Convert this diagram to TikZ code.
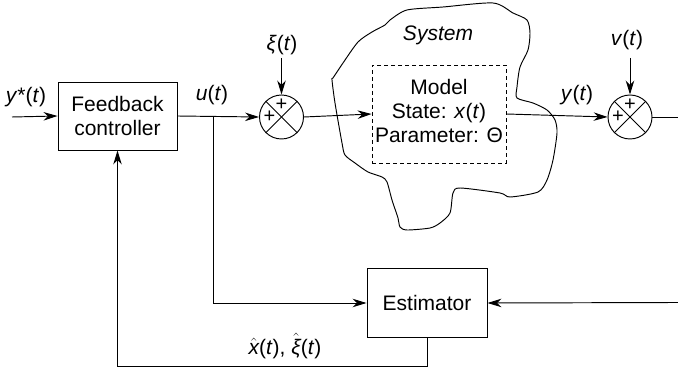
\documentclass[tikz,border=0pt]{standalone}
\usepackage{fontspec}
\setmainfont{Liberation Sans}
\usetikzlibrary{arrows.meta,calc}
\begin{document}
\begin{tikzpicture}[x=1pt,y=-1pt, line width=0.95pt,
  font=\fontsize{21}{24}\selectfont,
  arr/.style={-{Stealth[length=14pt,width=8.5pt,inset=4.5pt]}},
  blockbox/.style={draw, align=center, inner sep=0pt},
  sumnode/.style={draw, circle, minimum size=44pt, inner sep=0pt},
  lbl/.style={inner sep=0pt},
  plussign/.style={font=\fontsize{20}{20}\selectfont, inner sep=0pt}
]
\useasboundingbox (0,0) rectangle (678,371);

% system blob
\draw[line width=0.95pt] plot[smooth cycle, tension=0.45] coordinates {
 (333,78) (343,63) (358,42) (372,32) (385,25) (390,20) (407,10) (443,7)
 (493,3) (513,13) (527,20) (530,33) (528,50) (520,67) (517,87) (517,98)
 (533,103) (547,110) (555,120) (557,133) (553,160) (547,180) (538,192)
 (510,197) (500,193) (460,188) (453,193) (450,213) (440,223) (430,228)
 (407,230) (400,227) (398,218) (392,200) (387,182) (382,177) (368,172)
 (355,163) (345,155) (342,143) (335,103) (332,80)};
\node[lbl, font=\fontsize{21}{24}\selectfont\itshape] (systxt) at (438,35) {System};

% blocks
\node[blockbox, minimum width=119pt, minimum height=68pt] (ctrl) at (117.5,116) {Feedback\\controller};
\node[draw, line width=0.85pt, dash pattern=on 4pt off 3pt, minimum width=134pt, minimum height=98pt, inner sep=0pt] (model) at (439,114) {};
\node[lbl, align=center] (modeltxt) at (439,111) {Model\\State: \textit{x}(\textit{t})\\Parameter: Θ};
\node[blockbox, minimum width=120pt, minimum height=69pt] (est) at (427,303) {Estimator};

% summing junctions
\node[sumnode] (s1) at (281.5,117) {};
\node[sumnode] (s2) at (630,117) {};
\foreach \s in {s1,s2}{
  \draw (\s.north west) -- (\s.south east);
  \draw (\s.north east) -- (\s.south west);
  \node[plussign] at ($(\s.center)+(0,-12)$) {+};
  \node[plussign] at ($(\s.center)+(-12,0)$) {+};
}

% coordinates
\coordinate (in) at (12,117);
\coordinate (xiin) at (281.5,58);
\coordinate (vin) at (630,58);
\coordinate (out) at (678,117);
\coordinate (yin) at (678,302.5);
\coordinate (br) at (213,117);
\coordinate (fb) at (427,366);

% connectors
\draw[arr] (in) -- (ctrl.west);
\draw[arr] (ctrl.east) -- (s1.west);
\draw[arr] (xiin) -- (s1.north);
\draw[arr] (s1.east) -- (model.west);
\draw[arr] (model.east) -- (s2.west);
\draw[arr] (vin) -- (s2.north);
\draw (s2.east) -- (out);
\draw[arr] (br) |- (est.west);
\draw[arr] (yin) -- (est.east);
\draw[arr] (est.south) -- (fb) -| (ctrl.south);

% labels
\node[lbl] (lys) at (26,97) {\textit{y}*(\textit{t})};
\node[lbl] (lu) at (212,95) {\textit{u}(\textit{t})};
\node[lbl] (lxi) at (282,45) {\textit{ξ}(\textit{t})};
\node[lbl] (lv) at (627,40) {\textit{v}(\textit{t})};
\node[lbl] (ly) at (577,95) {\textit{y}(\textit{t})};
\node[lbl] (lhat) at (285,346) {$\hat{\mbox{\itshape x}}$(\textit{t}), $\hat{\mbox{\itshape ξ}}$(\textit{t})};
\end{tikzpicture}
\end{document}
